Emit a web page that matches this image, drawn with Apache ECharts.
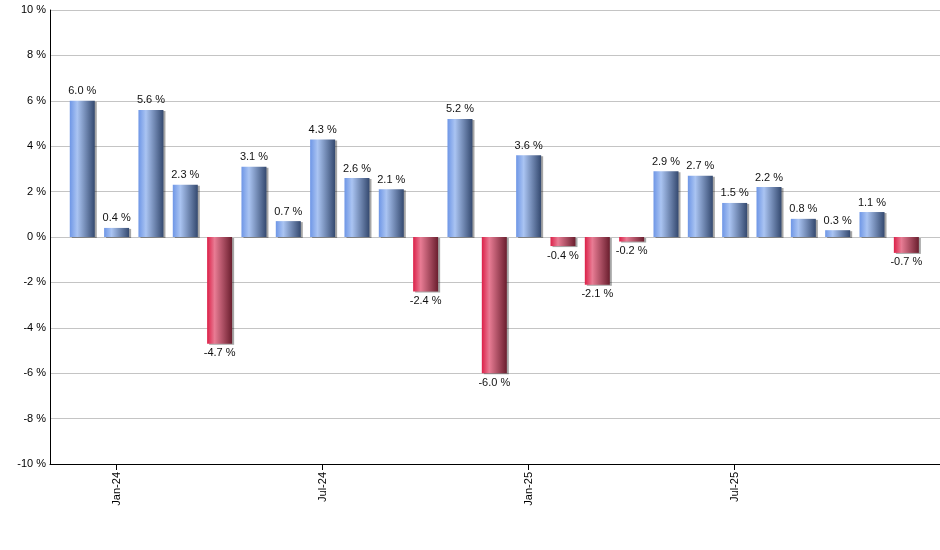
<!DOCTYPE html>
<html><head><meta charset="utf-8">
<script src="https://cdn.jsdelivr.net/npm/echarts@6/dist/echarts.min.js"></script>
<style>html,body{margin:0;padding:0;background:#fff}#c{width:940px;height:550px}</style>
</head><body><div id="c"></div>
<script>
const months = ['Dec-23','Jan-24','Feb-24','Mar-24','Apr-24','May-24','Jun-24','Jul-24','Aug-24','Sep-24','Oct-24','Nov-24','Dec-24','Jan-25','Feb-25','Mar-25','Apr-25','May-25','Jun-25','Jul-25','Aug-25','Sep-25','Oct-25','Nov-25','Dec-25'];
const returnsPct = [6.0,0.4,5.6,2.3,-4.7,3.1,0.7,4.3,2.6,2.1,-2.4,5.2,-6.0,3.6,-0.4,-2.1,-0.2,2.9,2.7,1.5,2.2,0.8,0.3,1.1,-0.7];
const shownTickMonths = ['Jan-24','Jul-24','Jan-25','Jul-25'];
const yTicks = [-10,-8,-6,-4,-2,0,2,4,6,8,10];

const blueGrad = new echarts.graphic.LinearGradient(0,0,1,0,[
  {offset:0,color:'#6e96e6'},{offset:0.3,color:'#aac4f2'},{offset:1,color:'#34496f'}]);
const redGrad = new echarts.graphic.LinearGradient(0,0,1,0,[
  {offset:0,color:'#dc2048'},{offset:0.3,color:'#e87c94'},{offset:1,color:'#6a1e2e'}]);

const tickIdx = shownTickMonths.map(m => months.indexOf(m));
const data = returnsPct.map((v,i) => ({
  value:[i,v],
  itemStyle:{color: v>=0 ? blueGrad : redGrad},
  label:{position: v>=0 ? 'top' : 'bottom'}
}));

const chart = echarts.init(document.getElementById('c'));
chart.setOption({
  animation:false,
  grid:{left:50,right:0,top:10,bottom:86,containLabel:false},
  xAxis:{
    type:'value', min:-0.94, max:24.98,
    axisLine:{show:true,onZero:false,lineStyle:{color:'#000',width:1}},
    splitLine:{show:false},
    axisTick:{show:true,customValues:tickIdx,length:6,lineStyle:{color:'#000'}},
    axisLabel:{customValues:tickIdx,rotate:90,margin:8,color:'#000',fontSize:11,fontFamily:'Liberation Sans, Arial',
      formatter:v=>months[Math.round(v)]}
  },
  yAxis:{
    type:'value', min:yTicks[0], max:yTicks[yTicks.length-1], interval:2,
    axisLine:{show:true,onZero:false,lineStyle:{color:'#000',width:1}},
    axisTick:{show:false},
    splitLine:{lineStyle:{color:'#c4c4c4',width:1}},
    axisLabel:{color:'#000',fontSize:11,fontFamily:'Liberation Sans, Arial',margin:4,formatter:v=>v+' %'}
  },
  series:[{
    type:'bar', barWidth:25, data:data,
    itemStyle:{shadowColor:'rgba(0,0,0,0.35)',shadowOffsetX:2,shadowOffsetY:1,shadowBlur:0},
    label:{show:true,color:'#111',fontSize:11,fontFamily:'Liberation Sans, Arial',distance:4,
      formatter:p=>p.value[1].toFixed(1)+' %'}
  }]
});
</script></body></html>
